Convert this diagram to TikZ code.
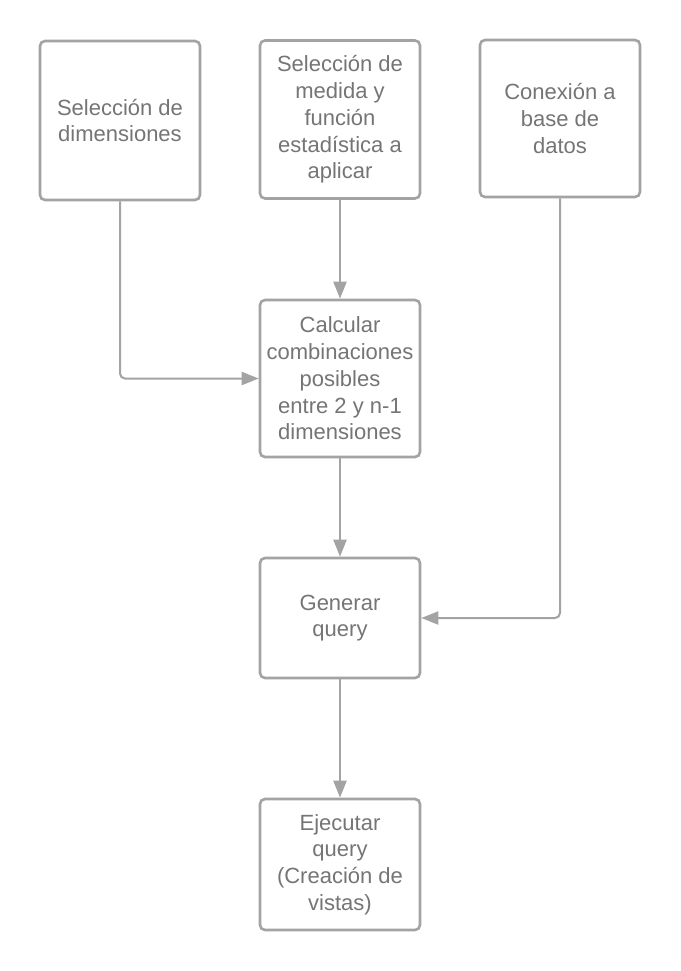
\documentclass[tikz,border=0pt]{standalone}
\usepackage{fontspec}
\setmainfont{Liberation Sans}
\usetikzlibrary{arrows.meta}
\definecolor{edgegray}{RGB}{163,163,163}
\definecolor{txtgray}{RGB}{117,117,117}
\begin{document}
\begin{tikzpicture}[x=1pt,y=-1pt,
  box/.style={draw=edgegray, line width=2.6pt, rounded corners=5pt, fill=white,
    minimum width=160pt, align=center, text=txtgray,
    font=\fontsize{22}{26.8}\selectfont, inner sep=0pt},
  conn/.style={draw=edgegray, line width=2pt, -{Triangle[length=17pt,width=13pt]}}]
\useasboundingbox[fill=white] (0,0) rectangle (680,971);
\node[box, minimum height=159pt] (a) at (120,120.5) {Selección de\\dimensiones};
\node[box, minimum height=158pt] (b) at (340,119.5) {Selección de\\medida y\\función\\estadística a\\aplicar};
\node[box, minimum height=157pt] (c) at (560,118.5) {Conexión a\\base de\\datos};
\node[box, minimum height=157pt] (d) at (340,378.5) {Calcular\\combinaciones\\posibles\\entre 2 y n-1\\dimensiones};
\node[box, minimum height=120pt] (e) at (340,618) {Generar\\query};
\node[box, minimum height=131pt] (f) at (340,864.5) {Ejecutar\\query\\(Creación de\\vistas)};
\draw[conn] (b.south) -- (d.north);
\draw[conn, rounded corners=5pt] (a.south) |- (d.west);
\draw[conn] (d.south) -- (e.north);
\draw[conn, rounded corners=5pt] (c.south) |- (e.east);
\draw[conn] (e.south) -- (f.north);
\end{tikzpicture}
\end{document}
